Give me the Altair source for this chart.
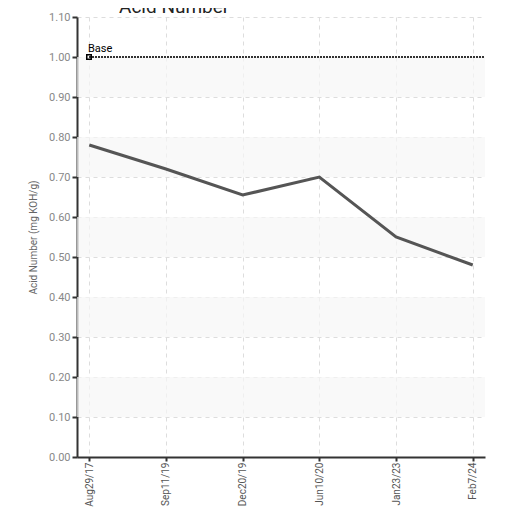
import altair as alt
import pandas as pd

dates = ["Aug29/17", "Sep11/19", "Dec20/19", "Jun10/20", "Jan23/23", "Feb7/24"]
acid = [0.78, 0.72, 0.655, 0.70, 0.55, 0.48]
band_lo = [0.1, 0.3, 0.5, 0.7, 0.9]
base_value = 1.0

FONT = "Roboto"
df = pd.DataFrame({"date": dates, "acid": acid})
bands = pd.DataFrame({"lo": band_lo, "hi": [b + 0.1 for b in band_lo]})

xs = alt.Scale(domain=dates, type="point", padding=0.16)
ys = alt.Scale(domain=[0, 1.1], nice=False)

x_axis = alt.Axis(title=None, labelAngle=-90, labelFont=FONT, labelFontSize=10,
                  labelColor="#555", grid=True, gridDash=[4, 4], gridColor="#ddd",
                  domainColor="#333", domainWidth=2, tickColor="#333", tickWidth=2,
                  tickSize=4, labelPadding=1, zindex=0)
y_axis = alt.Axis(title="Acid Number (mg KOH/g)", titleFont=FONT, titleFontSize=10,
                  titleFontWeight="normal", titleColor="#666", titlePadding=10,
                  labelFont=FONT, labelFontSize=11, labelColor="#888", format=".2f",
                  values=[i / 10 for i in range(12)], labelOverlap=False, grid=True,
                  gridDash=[4, 4], gridColor="#ddd", domainColor="#333", domainWidth=2,
                  tickColor="#333", tickWidth=2, tickSize=5, zindex=0)

band = alt.Chart(bands).mark_rect(color="#f7f7f7", opacity=0.7).encode(
    x=alt.value(0), x2=alt.value(408),
    y=alt.Y("lo:Q", scale=ys, axis=y_axis), y2="hi:Q")

line = alt.Chart(df).mark_line(color="#555", strokeWidth=3).encode(
    x=alt.X("date:N", scale=xs, sort=dates, axis=x_axis),
    y=alt.Y("acid:Q", scale=ys, axis=y_axis))

base_df = pd.DataFrame({"y": [base_value], "label": ["Base"]})
base_line = alt.Chart(base_df).mark_rule(color="#333", strokeDash=[2, 1], strokeWidth=2).encode(
    x=alt.value(12), x2=alt.value(408), y=alt.Y("y:Q", scale=ys, axis=y_axis))
base_pt = alt.Chart(base_df).mark_point(shape="square", filled=False, color="#000", size=20,
                                        strokeWidth=1.5, opacity=1).encode(
    x=alt.value(12), y=alt.Y("y:Q", scale=ys, axis=y_axis))
base_txt = alt.Chart(base_df).mark_text(align="left", baseline="bottom", font=FONT,
                                        fontSize=11, dy=-3, color="#000").encode(
    x=alt.value(11), y=alt.Y("y:Q", scale=ys, axis=y_axis), text="label:N")

title = alt.Chart(base_df).mark_text(align="left", baseline="alphabetic", font=FONT,
                                     fontSize=19, color="#222", text="Acid Number").encode(
    x=alt.value(42), y=alt.value(-4))

chart = alt.layer(band, line, base_line, base_pt, base_txt, title).properties(
    width=408, height=440,
    autosize=alt.AutoSizeParams(type="none"),
    padding={"left": 69, "top": 9, "right": 15, "bottom": 50},
).configure_view(stroke=None)

chart.save("out.html", embed_options={"renderer": "svg", "actions": False})
